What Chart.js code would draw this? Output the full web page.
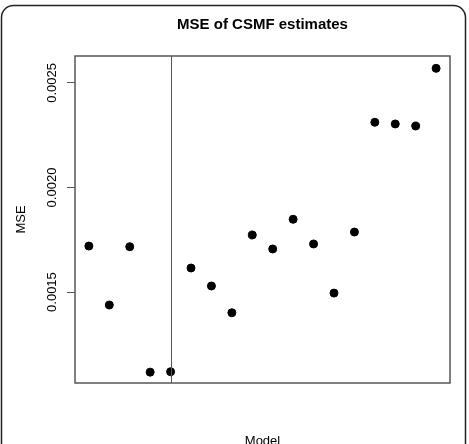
<!DOCTYPE html>
<html>
<head>
<meta charset="utf-8">
<script src="https://cdn.jsdelivr.net/npm/chart.js@4.4.0/dist/chart.umd.min.js"></script>
<style>
  body { margin: 0; background: #fff; }
  #wrap { width: 469px; height: 444px; position: relative; }
</style>
</head>
<body>
<div id="wrap"><canvas id="myChart"></canvas></div>
<script>
// model index and MSE
let models = [1, 2, 3, 4, 5, 6, 7, 8, 9, 10, 11, 12, 13, 14, 15, 16, 17, 18];
let mse = [0.00172, 0.001438, 0.001717, 0.001117, 0.001119, 0.001615, 0.001529, 0.001401, 0.001773,
           0.001706, 0.001848, 0.00173, 0.001495, 0.001787, 0.002312, 0.002304, 0.002294, 0.00257];
let yTicks = [0.0015, 0.0020, 0.0025];
let yTickLabels = ['0.0015', '0.0020', '0.0025'];
let separator = [5];

let font = 'Liberation Sans, Arial, Helvetica, sans-serif';
let boxColor = '#555';

// white background, outer rounded frame, plot box and the vertical separator
let extras = {
    id: 'extras',
    beforeDraw(chart) {
        let ctx = chart.ctx;
        ctx.save();
        ctx.fillStyle = '#fff';
        ctx.fillRect(0, 0, chart.width, chart.height);
        ctx.restore();
    },
    afterDatasetsDraw(chart) {
        let ctx = chart.ctx;
        let a = chart.chartArea;
        let xs = chart.scales.x;
        ctx.save();
        ctx.strokeStyle = boxColor;
        ctx.lineWidth = 1;
        separator.forEach((v) => {
            let px = Math.round(xs.getPixelForValue(v)) + 0.5;
            ctx.beginPath();
            ctx.moveTo(px, a.top);
            ctx.lineTo(px, a.bottom);
            ctx.stroke();
        });
        ctx.lineWidth = 1.5;
        ctx.strokeRect(a.left, a.top, a.right - a.left, a.bottom - a.top);
        // outer frame
        ctx.strokeStyle = '#222';
        ctx.lineWidth = 1.5;
        ctx.beginPath();
        ctx.roundRect(1.5, 5.5, 464, 470, 12);
        ctx.stroke();
        ctx.restore();
    }
};

var ctx = document.getElementById('myChart').getContext('2d');
var chart = new Chart(ctx, {
    type: 'scatter',
    data: {
        datasets: [{
            label: 'MSE',
            data: models.map((m, i) => ({x: m, y: mse[i]})),
            backgroundColor: '#000',
            borderColor: '#000',
            pointRadius: 4,
            pointHoverRadius: 4
        }]
    },
    options: {
        responsive: true,
        maintainAspectRatio: false,
        animation: false,
        layout: { padding: { left: 0, right: 19, top: 0, bottom: 0 } },
        plugins: {
            legend: { display: false },
            tooltip: { enabled: false },
            title: {
                display: true,
                text: 'MSE of CSMF estimates',
                color: '#000',
                fullSize: false,
                font: { family: font, size: 15, weight: 'bold' },
                padding: { top: 16, bottom: 22 }
            }
        },
        scales: {
            x: {
                type: 'linear',
                min: 0.32,
                max: 18.68,
                grid: { display: false },
                border: { display: false },
                ticks: { display: false },
                title: {
                    display: true,
                    text: 'Model',
                    color: '#000',
                    font: { family: font, size: 13 },
                    padding: { top: 0, bottom: -5 }
                },
                afterFit: (scale) => { scale.height = 61; }
            },
            y: {
                type: 'linear',
                min: 0.001065,
                max: 0.002629,
                afterBuildTicks: (scale) => { scale.ticks = yTicks.map((v) => ({value: v})); },
                grid: {
                    display: true,
                    drawOnChartArea: false,
                    drawTicks: true,
                    tickLength: 8,
                    color: boxColor
                },
                border: { display: false },
                ticks: {
                    color: '#000',
                    font: { family: font, size: 13 },
                    minRotation: 90,
                    maxRotation: 90,
                    crossAlign: 'center',
                    padding: -5,
                    callback: (value, index) => yTickLabels[index]
                },
                title: {
                    display: true,
                    text: 'MSE',
                    color: '#000',
                    font: { family: font, size: 13 },
                    padding: { top: 14, bottom: 0 }
                },
                afterFit: (scale) => { scale.width = 75; }
            }
        }
    },
    plugins: [extras]
});
</script>
</body>
</html>
